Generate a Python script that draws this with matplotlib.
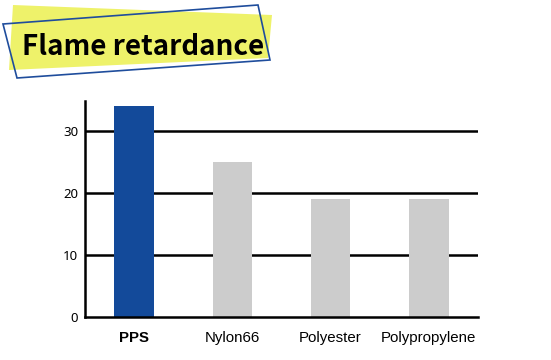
import matplotlib
matplotlib.use("Agg")
import matplotlib.pyplot as plt
from matplotlib.patches import Polygon

categories = ["PPS", "Nylon66", "Polyester", "Polypropylene"]
values = [34, 25, 19, 19]
colors = ["#134a9a", "#cccccc", "#cccccc", "#cccccc"]
yticks = [0, 10, 20, 30]
title = "Flame retardance"

W, H = 551, 360
fig = plt.figure(figsize=(W / 100, H / 100), dpi=100)

def px(pts):
    return [(x / W, 1 - y / H) for x, y in pts]

# title decoration
yellow = Polygon(px([(13, 5), (272, 15), (268, 58), (9, 70)]), closed=True,
                 facecolor="#eef26a", edgecolor="none", transform=fig.transFigure)
fig.patches.append(yellow)
blue = Polygon(px([(3, 24), (258, 5), (270, 60), (17, 78)]), closed=True,
               facecolor="none", edgecolor="#1f4d9c", linewidth=1.2, transform=fig.transFigure)
fig.patches.append(blue)
fig.text(22 / W, 1 - 55 / H, title, fontsize=20, fontweight="bold",
         family=["Noto Sans CJK KR", "DejaVu Sans"],
         color="black", ha="left", va="baseline")

ax = fig.add_axes([85 / W, 1 - 317 / H, 393 / W, 216 / H])
x = list(range(len(categories)))
ax.bar(x, values, width=0.4, color=colors, zorder=3)
ax.set_xlim(-0.5, 3.5)
ax.set_ylim(0, 34.8)
ax.set_yticks(yticks)
ax.set_yticklabels([str(t) for t in yticks], family="Noto Sans", fontsize=9.5)
for t in yticks[1:]:
    ax.axhline(t, color="black", linewidth=1.8, zorder=2)
ax.set_xticks(x)
ax.set_xticklabels(categories, family="Liberation Sans", fontsize=10.8)
ax.get_xticklabels()[0].set_fontweight("bold")
ax.tick_params(axis="both", length=0)
ax.tick_params(axis="x", pad=10)
ax.tick_params(axis="y", pad=5)
for s in ["top", "right"]:
    ax.spines[s].set_visible(False)
for s in ["left", "bottom"]:
    ax.spines[s].set_linewidth(1.8)
    ax.spines[s].set_color("black")
    ax.spines[s].set_zorder(4)

fig.savefig("out.png", dpi=100)
